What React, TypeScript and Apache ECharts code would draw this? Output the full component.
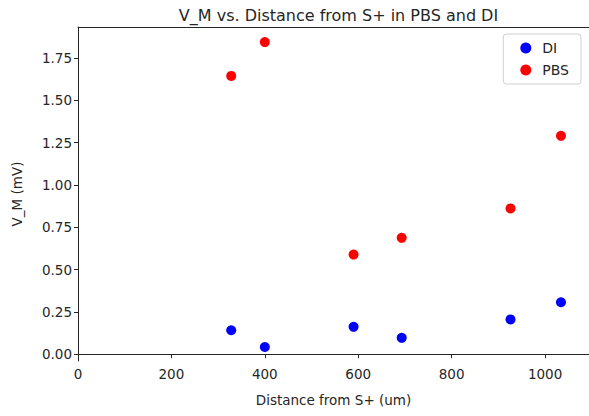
import React, { useEffect, useRef } from "react";
import * as echarts from "echarts";

const diDistance = [328, 400, 590, 693, 926, 1034];
const diValues = [0.142, 0.043, 0.162, 0.097, 0.206, 0.307];
const pbsDistance = [328, 400, 590, 693, 926, 1034];
const pbsValues = [1.645, 1.845, 0.589, 0.688, 0.862, 1.291];
const xTicks = [0, 200, 400, 600, 800, 1000];
const yTicks = [0, 0.25, 0.5, 0.75, 1.0, 1.25, 1.5, 1.75];

const FONT = "DejaVu Sans";
const INK = "#262626";

export default function App() {
  const ref = useRef<HTMLDivElement>(null);
  useEffect(() => {
    if (!ref.current) return;
    const chart = echarts.init(ref.current, undefined, { renderer: "svg" });
    const axisCommon = {
      axisLine: { show: true, lineStyle: { color: INK, width: 1 } },
      axisTick: { show: true, inside: false, length: 4, lineStyle: { color: INK } },
      splitLine: { show: false },
      nameTextStyle: { fontFamily: FONT, fontSize: 13.5, color: INK },
    };
    chart.setOption({
      animation: false,
      backgroundColor: "#ffffff",
      title: {
        text: "V_M vs. Distance from S+ in PBS and DI",
        left: 333.5,
        textAlign: "center",
        top: 2,
        textStyle: { fontFamily: FONT, fontSize: 16, fontWeight: "normal", color: INK },
      },
      legend: {
        orient: "vertical",
        right: 8,
        top: 34,
        padding: [7, 12, 7, 17],
        itemGap: 8,
        itemWidth: 11,
        itemHeight: 11,
        borderColor: "#d0d0d0",
        borderWidth: 1,
        borderRadius: 3,
        textStyle: { fontFamily: FONT, fontSize: 14, color: INK, padding: [0, 0, 0, 6] },
        data: [
          { name: "DI", icon: "circle" },
          { name: "PBS", icon: "circle" },
        ],
      },
      grid: { left: 78, right: 0, top: 27, bottom: 55, containLabel: false },
      xAxis: [
        {
          type: "value",
          min: 0,
          max: 1094,
          name: "Distance from S+ (um)",
          nameLocation: "middle",
          nameGap: 32,
          ...axisCommon,
          axisTick: { ...axisCommon.axisTick, customValues: xTicks },
          axisLabel: {
            customValues: xTicks,
            fontFamily: FONT,
            fontSize: 13.5,
            color: INK,
            margin: 6,
            formatter: (v: number) => String(Math.round(v)),
          },
        },
        {
          type: "value",
          position: "top",
          min: 0,
          max: 1094,
          axisLine: { show: true, lineStyle: { color: INK, width: 1 } },
          axisTick: { show: false },
          axisLabel: { show: false },
          splitLine: { show: false },
        },
      ],
      yAxis: {
        type: "value",
        min: -0.04,
        max: 1.934,
        name: "V_M (mV)",
        nameLocation: "middle",
        nameGap: 54,
        ...axisCommon,
        axisTick: { ...axisCommon.axisTick, customValues: yTicks },
        axisLabel: {
          customValues: yTicks,
          fontFamily: FONT,
          fontSize: 13.5,
          color: INK,
          margin: 6,
          formatter: (v: number) => v.toFixed(2),
        },
      },
      series: [
        {
          name: "DI",
          type: "scatter",
          symbol: "circle",
          symbolSize: 10,
          itemStyle: { color: "#0000ff", opacity: 1 },
          data: diDistance.map((d, i) => [d, diValues[i]]),
        },
        {
          name: "PBS",
          type: "scatter",
          symbol: "circle",
          symbolSize: 10,
          itemStyle: { color: "#ff0000", opacity: 1 },
          data: pbsDistance.map((d, i) => [d, pbsValues[i]]),
        },
      ],
    });
    return () => chart.dispose();
  }, []);
  return (
    <div
      ref={ref}
      style={{ position: "absolute", left: 0, top: 0, width: 589, height: 416 }}
    />
  );
}
